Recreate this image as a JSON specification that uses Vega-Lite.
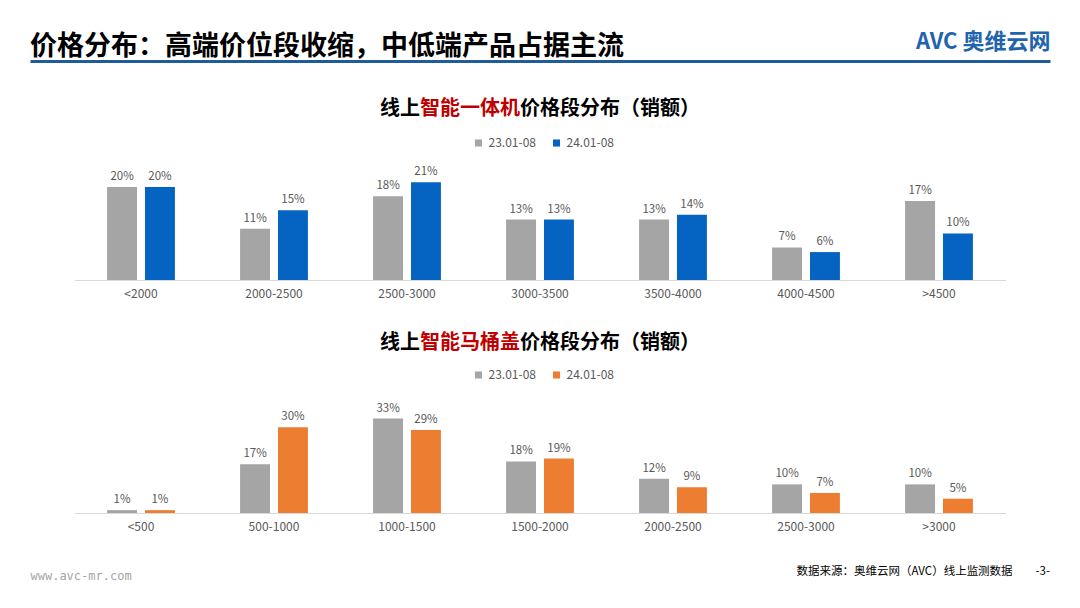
{
  "$schema": "https://vega.github.io/schema/vega-lite/v6.json",
  "background": "white",
  "padding": {"top": 30, "left": 30, "right": 30, "bottom": 0},
  "spacing": 0,
  "center": true,
  "resolve": {"scale": {"color": "independent"}, "legend": {"color": "independent"}},
  "config": {
    "view": {"stroke": null},
    "font": "Noto Sans CJK SC",
    "title": {"font": "Noto Sans CJK SC"},
    "axis": {"labelFont": "Noto Sans CJK SC", "titleFont": "Noto Sans CJK SC"},
    "legend": {"labelFont": "Noto Sans CJK SC"}
  },
  "datasets": {
    "aio": [
      {"seg": "<2000", "period": "23.01-08", "share": 0.20},
      {"seg": "<2000", "period": "24.01-08", "share": 0.20},
      {"seg": "2000-2500", "period": "23.01-08", "share": 0.11},
      {"seg": "2000-2500", "period": "24.01-08", "share": 0.15},
      {"seg": "2500-3000", "period": "23.01-08", "share": 0.18},
      {"seg": "2500-3000", "period": "24.01-08", "share": 0.21},
      {"seg": "3000-3500", "period": "23.01-08", "share": 0.13},
      {"seg": "3000-3500", "period": "24.01-08", "share": 0.13},
      {"seg": "3500-4000", "period": "23.01-08", "share": 0.13},
      {"seg": "3500-4000", "period": "24.01-08", "share": 0.14},
      {"seg": "4000-4500", "period": "23.01-08", "share": 0.07},
      {"seg": "4000-4500", "period": "24.01-08", "share": 0.06},
      {"seg": ">4500", "period": "23.01-08", "share": 0.17},
      {"seg": ">4500", "period": "24.01-08", "share": 0.10}
    ],
    "seat": [
      {"seg": "<500", "period": "23.01-08", "share": 0.01},
      {"seg": "<500", "period": "24.01-08", "share": 0.01},
      {"seg": "500-1000", "period": "23.01-08", "share": 0.17},
      {"seg": "500-1000", "period": "24.01-08", "share": 0.30},
      {"seg": "1000-1500", "period": "23.01-08", "share": 0.33},
      {"seg": "1000-1500", "period": "24.01-08", "share": 0.29},
      {"seg": "1500-2000", "period": "23.01-08", "share": 0.18},
      {"seg": "1500-2000", "period": "24.01-08", "share": 0.19},
      {"seg": "2000-2500", "period": "23.01-08", "share": 0.12},
      {"seg": "2000-2500", "period": "24.01-08", "share": 0.09},
      {"seg": "2500-3000", "period": "23.01-08", "share": 0.10},
      {"seg": "2500-3000", "period": "24.01-08", "share": 0.07},
      {"seg": ">3000", "period": "23.01-08", "share": 0.10},
      {"seg": ">3000", "period": "24.01-08", "share": 0.05}
    ]
  },
  "vconcat": [
    {
      "width": 1020,
      "height": 1,
      "data": {"values": [{}]},
      "mark": {"type": "text", "text": ""},
      "encoding": {
        "x": {
          "datum": 0, "type": "quantitative", "scale": {"domain": [0, 1]},
          "axis": {
            "orient": "top", "domainColor": "#1F5C99", "domainWidth": 3, "domainCap": "butt",
            "ticks": false, "labels": false, "grid": false,
            "title": "AVC 奥维云网", "titleAnchor": "end", "titleAlign": "right",
            "titleColor": "#1F64AD", "titleFontSize": 22, "titleFontWeight": "bold",
            "titlePadding": 8
          }
        }
      },
      "title": {
        "text": "价格分布：高端价位段收缩，中低端产品占据主流",
        "anchor": "start", "frame": "group", "fontSize": 27, "fontWeight": "bold",
        "color": "#000000", "offset": -31
      }
    },
    {
      "spacing": 0,
      "hconcat": [
        {"width": 1, "height": 28, "data": {"values": [{}]}, "mark": {"type": "text", "text": ""},
         "title": {"text": "线上", "orient": "bottom", "anchor": "start", "frame": "group", "offset": 4, "fontSize": 20, "fontWeight": "bold", "color": "#000000"}},
        {"width": 1, "height": 28, "data": {"values": [{}]}, "mark": {"type": "text", "text": ""},
         "title": {"text": "智能一体机", "orient": "bottom", "anchor": "start", "frame": "group", "offset": 4, "fontSize": 20, "fontWeight": "bold", "color": "#C00000"}},
        {"width": 1, "height": 28, "data": {"values": [{}]}, "mark": {"type": "text", "text": ""},
         "title": {"text": "价格段分布（销额）", "orient": "bottom", "anchor": "start", "frame": "group", "offset": 4, "fontSize": 20, "fontWeight": "bold", "color": "#000000"}}
      ]
    },
    {
      "width": 931,
      "height": 161,
      "data": {"name": "aio"},
      "encoding": {
        "x": {
          "field": "seg", "type": "nominal", "sort": null,
          "scale": {"paddingInner": 0.49, "paddingOuter": 0.245},
          "axis": {"title": null, "labelAngle": 0, "ticks": false, "domainColor": "#D9D9D9", "labelFontSize": 12, "labelColor": "#595959", "labelPadding": 8}
        },
        "xOffset": {"field": "period", "type": "nominal", "scale": {"paddingInner": 0.21, "paddingOuter": 0}},
        "y": {"field": "share", "type": "quantitative", "scale": {"domain": [0, 0.346]}, "axis": null}
      },
      "layer": [
        {
          "mark": {"type": "bar"},
          "encoding": {
            "color": {
              "field": "period", "type": "nominal",
              "scale": {"domain": ["23.01-08", "24.01-08"], "range": ["#A5A5A5", "#0563C1"]},
              "legend": {"orient": "none", "legendX": 398, "legendY": 18, "direction": "horizontal", "title": null, "symbolType": "square", "symbolSize": 50, "labelFontSize": 12, "labelColor": "#595959", "columnPadding": 14}
            }
          }
        },
        {
          "mark": {"type": "text", "baseline": "bottom", "dy": -5, "fontSize": 11.5, "fill": "#595959"},
          "encoding": {"text": {"field": "share", "type": "quantitative", "format": ".0%"}}
        }
      ]
    },
    {
      "spacing": 0,
      "hconcat": [
        {"width": 1, "height": 30, "data": {"values": [{}]}, "mark": {"type": "text", "text": ""},
         "title": {"text": "线上", "orient": "bottom", "anchor": "start", "frame": "group", "offset": 4, "fontSize": 20, "fontWeight": "bold", "color": "#000000"}},
        {"width": 1, "height": 30, "data": {"values": [{}]}, "mark": {"type": "text", "text": ""},
         "title": {"text": "智能马桶盖", "orient": "bottom", "anchor": "start", "frame": "group", "offset": 4, "fontSize": 20, "fontWeight": "bold", "color": "#C00000"}},
        {"width": 1, "height": 30, "data": {"values": [{}]}, "mark": {"type": "text", "text": ""},
         "title": {"text": "价格段分布（销额）", "orient": "bottom", "anchor": "start", "frame": "group", "offset": 4, "fontSize": 20, "fontWeight": "bold", "color": "#000000"}}
      ]
    },
    {
      "width": 931,
      "height": 160,
      "data": {"name": "seat"},
      "encoding": {
        "x": {
          "field": "seg", "type": "nominal", "sort": null,
          "scale": {"paddingInner": 0.49, "paddingOuter": 0.245},
          "axis": {"title": null, "labelAngle": 0, "ticks": false, "domainColor": "#D9D9D9", "labelFontSize": 12, "labelColor": "#595959", "labelPadding": 8}
        },
        "xOffset": {"field": "period", "type": "nominal", "scale": {"paddingInner": 0.21, "paddingOuter": 0}},
        "y": {"field": "share", "type": "quantitative", "scale": {"domain": [0, 0.559]}, "axis": null}
      },
      "layer": [
        {
          "mark": {"type": "bar"},
          "encoding": {
            "color": {
              "field": "period", "type": "nominal",
              "scale": {"domain": ["23.01-08", "24.01-08"], "range": ["#A5A5A5", "#ED7D31"]},
              "legend": {"orient": "none", "legendX": 398, "legendY": 16, "direction": "horizontal", "title": null, "symbolType": "square", "symbolSize": 50, "labelFontSize": 12, "labelColor": "#595959", "columnPadding": 14}
            }
          }
        },
        {
          "mark": {"type": "text", "baseline": "bottom", "dy": -5, "fontSize": 11.5, "fill": "#595959"},
          "encoding": {"text": {"field": "share", "type": "quantitative", "format": ".0%"}}
        }
      ]
    },
    {
      "width": 1020,
      "height": 32,
      "data": {"values": [{}]},
      "mark": {"type": "text", "text": ""},
      "encoding": {
        "x": {
          "datum": 0, "type": "quantitative", "scale": {"domain": [0, 1]},
          "axis": {
            "orient": "bottom", "domain": false, "ticks": false, "labels": false, "grid": false,
            "title": "www.avc-mr.com", "titleAnchor": "start", "titleAlign": "left",
            "titleFont": "DejaVu Sans Mono", "titleFontSize": 12, "titleFontWeight": "normal",
            "titleColor": "#A6A6A6", "titlePadding": 6
          }
        }
      },
      "title": {
        "text": "数据来源：奥维云网（AVC）线上监测数据　　-3-",
        "orient": "bottom", "anchor": "end", "frame": "group", "fontSize": 11.5,
        "fontWeight": "normal", "color": "#000000", "offset": -15
      }
    }
  ]
}
